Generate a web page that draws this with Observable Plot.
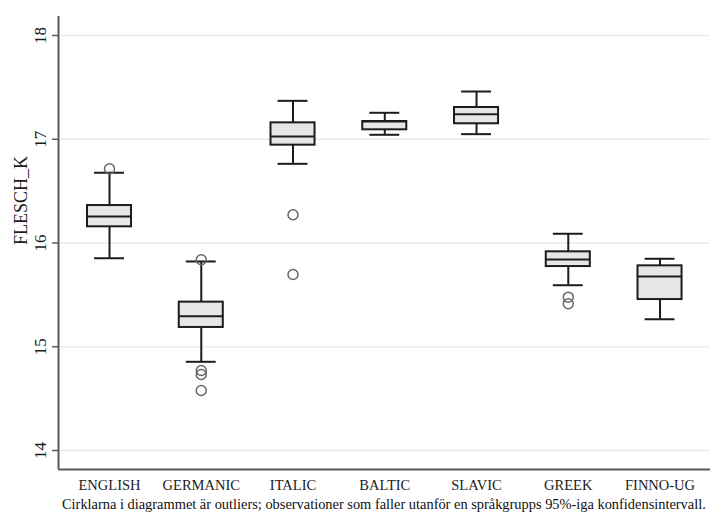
<!DOCTYPE html>
<html>
<head>
<meta charset="utf-8">
<script src="https://cdn.jsdelivr.net/npm/d3@7"></script>
<script src="https://cdn.jsdelivr.net/npm/@observablehq/plot@0.6"></script>
<style>
  html, body { margin: 0; padding: 0; background: #ffffff; }
  #chart { width: 710px; height: 513px; overflow: hidden; }
  #chart svg text { font-family: "Liberation Serif", "Times New Roman", serif !important; }
  #note {
    font-family: "Liberation Serif", "Times New Roman", serif;
    font-size: 14.4px;
    line-height: 18px;
    color: #111;
    padding-left: 62px;
    white-space: nowrap;
  }
</style>
</head>
<body>
<div id="chart"></div>
<script>
// Language groups along the x axis
const categories = ["ENGLISH", "GERMANIC", "ITALIC", "BALTIC", "SLAVIC", "GREEK", "FINNO-UG"];

// Box-plot summaries of FLESCH_K per group
const lowerWhisker = [15.853, 14.855, 16.763, 17.043, 17.049, 15.593, 15.265];
const q1Values     = [16.156, 15.186, 16.943, 17.091, 17.149, 15.773, 15.455];
const medians      = [16.255, 15.295, 17.027, 17.170, 17.241, 15.841, 15.677];
const q3Values     = [16.361, 15.430, 17.158, 17.171, 17.306, 15.915, 15.780];
const upperWhisker = [16.677, 15.822, 17.370, 17.255, 17.460, 16.089, 15.848];

// Outlying observations (group, value)
const outlierGroups = ["ENGLISH", "GERMANIC", "GERMANIC", "GERMANIC", "GERMANIC", "ITALIC", "ITALIC", "GREEK", "GREEK"];
const outlierValues = [16.715, 15.838, 14.771, 14.733, 14.578, 16.272, 15.696, 15.478, 15.414];

// Axis ticks and titles
const yTicks = [14, 15, 16, 17, 18];
const yTitle = "FLESCH_K";
const note = "Cirklarna i diagrammet är outliers; observationer som faller utanför en språkgrupps 95%-iga konfidensintervall.";

const groups = categories.map((name, i) => ({
  name, i,
  lo: lowerWhisker[i], q1: q1Values[i], med: medians[i], q3: q3Values[i], hi: upperWhisker[i]
}));
const outliers = outlierGroups.map((g, k) => ({i: categories.indexOf(g), value: outlierValues[k]}));

const xDomain = [-0.556, 6.55];
const yDomain = [13.817, 18.183];
const boxHalf = 0.24;
const capHalf = 0.163;
const tickLen = 0.065;
const serif = "'Liberation Serif', 'Times New Roman', serif";
const ink = "#1c1c1c";
const axisGray = "#5a5a5a";

const chart = Plot.plot({
  width: 710,
  height: 495,
  marginLeft: 58,
  marginRight: 0,
  marginTop: 16,
  marginBottom: 26,
  style: {background: "#ffffff", color: axisGray, fontFamily: serif},
  x: {type: "linear", domain: xDomain, axis: null},
  y: {domain: yDomain, axis: null},
  marks: [
    // horizontal grid
    Plot.ruleY(yTicks, {stroke: "#e4eef0", strokeWidth: 1.5}),
    // axis lines
    Plot.ruleX([xDomain[0]], {stroke: axisGray, strokeWidth: 2}),
    Plot.ruleY([yDomain[0]], {stroke: axisGray, strokeWidth: 2}),
    // y tick marks
    Plot.ruleY(yTicks, {y: d => d, x1: xDomain[0] - tickLen, x2: xDomain[0], stroke: axisGray, strokeWidth: 1.5}),
    // whiskers
    Plot.ruleX(groups, {x: "i", y1: "lo", y2: "q1", stroke: ink, strokeWidth: 2}),
    Plot.ruleX(groups, {x: "i", y1: "q3", y2: "hi", stroke: ink, strokeWidth: 2}),
    // whisker caps
    Plot.ruleY(groups, {y: "lo", x1: d => d.i - capHalf, x2: d => d.i + capHalf, stroke: ink, strokeWidth: 2}),
    Plot.ruleY(groups, {y: "hi", x1: d => d.i - capHalf, x2: d => d.i + capHalf, stroke: ink, strokeWidth: 2}),
    // boxes
    Plot.rect(groups, {x1: d => d.i - boxHalf, x2: d => d.i + boxHalf, y1: "q1", y2: "q3", fill: "#e6e6e6", stroke: ink, strokeWidth: 2}),
    // medians
    Plot.ruleY(groups, {y: "med", x1: d => d.i - boxHalf, x2: d => d.i + boxHalf, stroke: ink, strokeWidth: 2}),
    // outliers
    Plot.dot(outliers, {x: "i", y: "value", r: 5, fill: "none", stroke: "#666666", strokeWidth: 1.5}),
    // y tick labels
    Plot.text(yTicks, {x: xDomain[0], y: d => d, text: d => String(d), rotate: -90, dx: -18, fontSize: 17, fill: ink}),
    // y title
    Plot.text([yTitle], {frameAnchor: "left", text: d => d, rotate: -90, dx: -37, dy: 2, fontSize: 18, fill: ink}),
    // category labels
    Plot.text(groups, {x: "i", y: yDomain[0], text: "name", dy: 16, fontSize: 14.5, fill: ink})
  ]
});

const host = document.getElementById("chart");
host.appendChild(chart);
const caption = document.createElement("div");
caption.id = "note";
caption.textContent = note;
host.appendChild(caption);
</script>
</body>
</html>
